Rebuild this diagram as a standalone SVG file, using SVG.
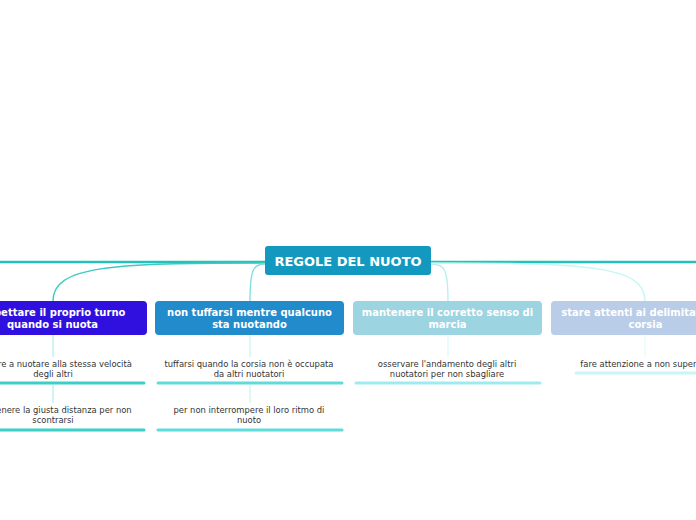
<svg xmlns="http://www.w3.org/2000/svg" width="696" height="520" viewBox="0 0 696 520">
<style>
.root{font-family:"DejaVu Sans",Verdana,sans-serif;font-weight:bold;font-size:13px;fill:#fff;text-anchor:middle}
.main{font-family:"DejaVu Sans",Verdana,sans-serif;font-weight:bold;font-size:10px;fill:#fff;text-anchor:middle}
.leaf{font-family:"DejaVu Sans",Verdana,sans-serif;font-size:8.4px;fill:#333;text-anchor:middle}
.c{fill:none}
.u{stroke-width:3;stroke-linecap:round;fill:none}
</style>
<rect width="696" height="520" fill="#fff"/>
<g id="connectors">
<path class="c" d="M265,262 L-10,262" stroke="#22c2ba" stroke-width="2.5"/>
<path class="c" d="M431,262 L706,262" stroke="#22c2ba" stroke-width="2.5"/>
<path class="c" d="M265,263 C110,263 53,266 53,301" stroke="#3ecac2" stroke-width="1.4"/>
<path class="c" d="M265,264 C254,264 250,268 250,301" stroke="#7fdee0" stroke-width="1.3"/>
<path class="c" d="M431,264 C444,264 448,268 448,301" stroke="#b5eff2" stroke-width="1.3"/>
<path class="c" d="M431,263 C590,263 645,266 645,301" stroke="#c6f7f4" stroke-width="1.4"/>
<path class="c" d="M53,335 V357 M53,385 V403" stroke="#a6e9e6" stroke-width="1"/>
<path class="c" d="M250,335 V357 M250,385 V403" stroke="#bdeff0" stroke-width="1"/>
<path class="c" d="M448,335 V357" stroke="#d4f5f7" stroke-width="1"/>
<path class="c" d="M645,335 V357" stroke="#e0fafa" stroke-width="1"/>
</g>
<g id="root">
<rect x="265" y="246" width="166" height="29" rx="3" fill="#1399bf"/>
<text class="root" x="348" y="266">REGOLE DEL NUOTO</text>
</g>
<g id="n1">
<rect x="-42" y="301" width="189" height="34" rx="4" fill="#3010de"/>
<text class="main" x="52.5" y="316">rispettare il proprio turno</text>
<text class="main" x="52.5" y="328">quando si nuota</text>
</g>
<g id="n2">
<rect x="155" y="301" width="189" height="34" rx="4" fill="#228bcc"/>
<text class="main" x="249.5" y="316">non tuffarsi mentre qualcuno</text>
<text class="main" x="249.5" y="328">sta nuotando</text>
</g>
<g id="n3">
<rect x="353" y="301" width="189" height="34" rx="4" fill="#9dd4e1"/>
<text class="main" x="447.5" y="316">mantenere il corretto senso di</text>
<text class="main" x="447.5" y="328">marcia</text>
</g>
<g id="n4">
<rect x="551" y="301" width="189" height="34" rx="4" fill="#b9cde8"/>
<text class="main" x="645.5" y="316">stare attenti ai delimitatori di</text>
<text class="main" x="645.5" y="328">corsia</text>
</g>
<g id="l1a">
<text class="leaf" x="53" y="367">provare a nuotare alla stessa velocità</text>
<text class="leaf" x="53" y="377">degli altri</text>
<path class="u" d="M-40,383 H144" stroke="#3ccfc7"/>
</g>
<g id="l1b">
<text class="leaf" x="53" y="413">mantenere la giusta distanza per non</text>
<text class="leaf" x="53" y="423">scontrarsi</text>
<path class="u" d="M-40,430 H144" stroke="#3ccfc7"/>
</g>
<g id="l2a">
<text class="leaf" x="249" y="367">tuffarsi quando la corsia non è occupata</text>
<text class="leaf" x="249" y="377">da altri nuotatori</text>
<path class="u" d="M158,383 H342" stroke="#5fdcda"/>
</g>
<g id="l2b">
<text class="leaf" x="249" y="413">per non interrompere il loro ritmo di</text>
<text class="leaf" x="249" y="423">nuoto</text>
<path class="u" d="M158,430 H342" stroke="#5fdcda"/>
</g>
<g id="l3a">
<text class="leaf" x="447" y="367">osservare l'andamento degli altri</text>
<text class="leaf" x="447" y="377">nuotatori per non sbagliare</text>
<path class="u" d="M356,383 H540" stroke="#9debf0"/>
</g>
<g id="l4a">
<text class="leaf" x="645" y="367">fare attenzione a non superarli</text>
<path class="u" d="M576,373 H716" stroke="#c6f7f6"/>
</g>
</svg>
